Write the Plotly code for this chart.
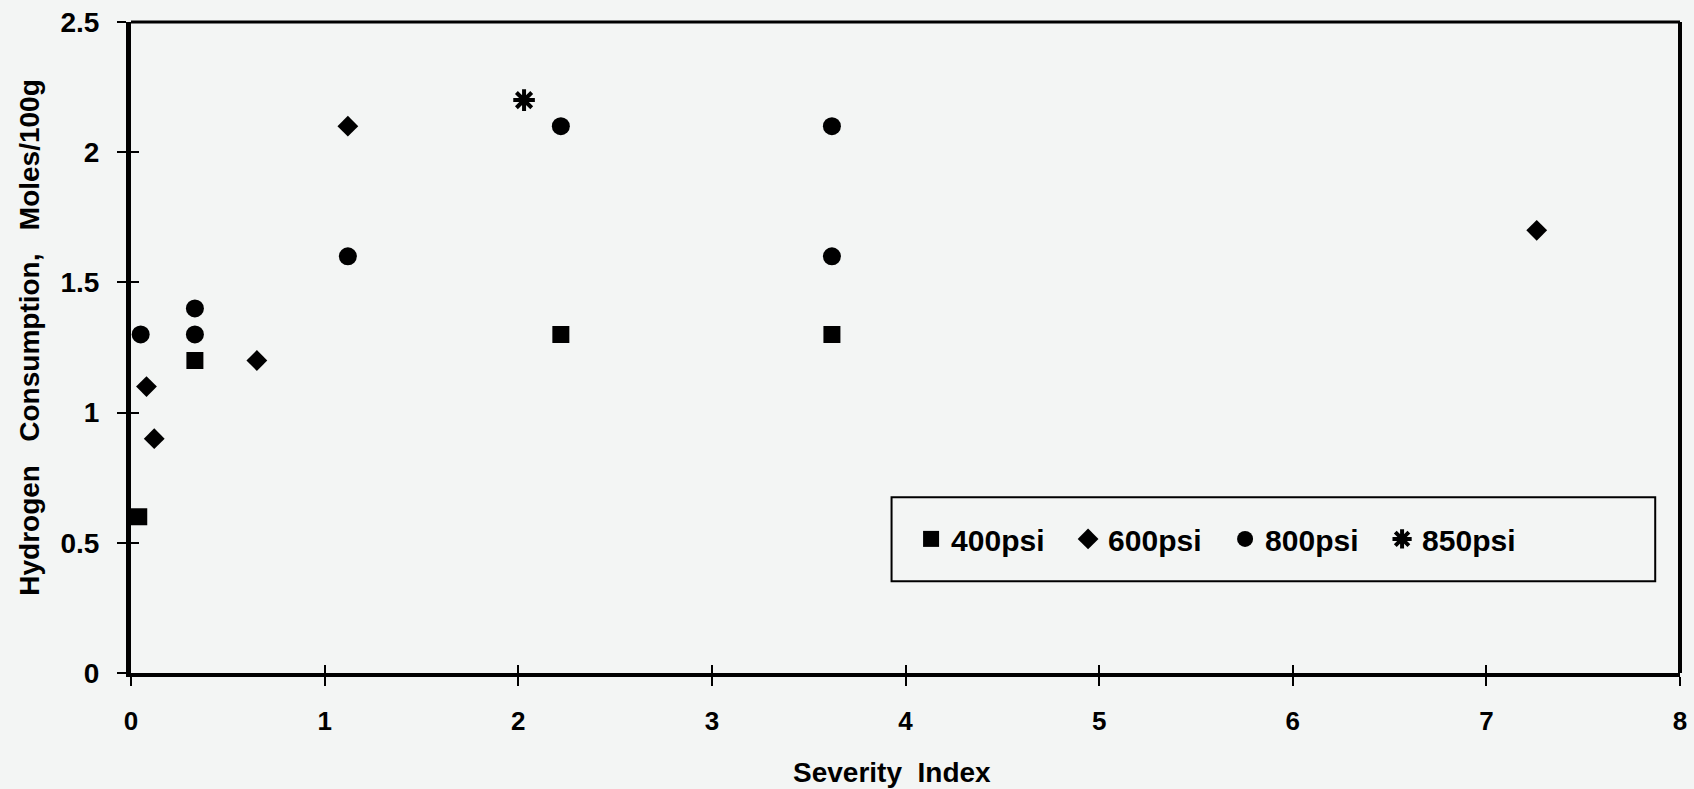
import plotly.graph_objects as go

# Data
x_400 = [0.04, 0.33, 2.22, 3.62]
y_400 = [0.6, 1.2, 1.3, 1.3]

x_600 = [0.08, 0.12, 0.65, 1.12, 7.26]
y_600 = [1.1, 0.9, 1.2, 2.1, 1.7]

x_800 = [0.05, 0.33, 0.33, 1.12, 2.22, 3.62, 3.62]
y_800 = [1.3, 1.4, 1.3, 1.6, 2.1, 2.1, 1.6]

x_850 = [2.03]
y_850 = [2.2]

x_ticks = [0, 1, 2, 3, 4, 5, 6, 7, 8]
y_ticks = [0, 0.5, 1, 1.5, 2, 2.5]
y_tick_text = ["0", "0.5", "1", "1.5", "2", "2.5"]

x_title = "Severity\u00a0\u00a0Index"
y_title = "Hydrogen\u00a0\u00a0\u00a0Consumption,\u00a0\u00a0\u00a0Moles/100g"

BG = "#f3f5f4"
FONT = "Liberation Sans"

fig = go.Figure()
fig.add_trace(go.Scatter(x=x_400, y=y_400, mode="markers", name="400psi",
                         marker=dict(symbol="square", size=17, color="black")))
fig.add_trace(go.Scatter(x=x_600, y=y_600, mode="markers", name="600psi",
                         marker=dict(symbol="diamond", size=16, color="black")))
fig.add_trace(go.Scatter(x=x_800, y=y_800, mode="markers", name="800psi",
                         marker=dict(symbol="circle", size=18, color="black")))
fig.add_trace(go.Scatter(x=x_850, y=y_850, mode="markers", name="850psi",
                         marker=dict(symbol="asterisk-open", size=18, color="black",
                                     line=dict(color="black", width=4))))
# invisible trace for the inner tick overlay axes
fig.add_trace(go.Scatter(x=[x_ticks[0]], y=[y_ticks[0]], xaxis="x2", yaxis="y2",
                         mode="markers", marker=dict(opacity=0), showlegend=False,
                         hoverinfo="skip"))

fig.update_layout(
    width=1694, height=789,
    paper_bgcolor=BG, plot_bgcolor=BG,
    margin=dict(l=131, r=14, t=22, b=116),
    font=dict(family=FONT, size=24, color="black", weight=700),
    xaxis=dict(range=[0, 8], tickvals=x_ticks, ticks="outside", ticklen=9, tickwidth=2,
               tickcolor="black", showline=True, linecolor="black", linewidth=4,
               mirror=False, showgrid=False, zeroline=False, automargin=False,
               tickfont=dict(size=26, family=FONT, weight=700),
               ticklabelstandoff=13),
    yaxis=dict(range=[0, 2.5], tickvals=y_ticks, ticktext=y_tick_text, ticks="outside",
               ticklen=9, tickwidth=2, tickcolor="black", showline=True, linecolor="black",
               linewidth=5, mirror=False, showgrid=False, zeroline=False, automargin=False,
               tickfont=dict(size=28, family=FONT, weight=700),
               ticklabelstandoff=12),
    xaxis2=dict(range=[0, 8], tickvals=x_ticks, ticks="inside", ticklen=8, tickwidth=2,
                tickcolor="black", showticklabels=False, overlaying="x", showgrid=False,
                zeroline=False, showline=False, automargin=False),
    yaxis2=dict(range=[0, 2.5], tickvals=y_ticks, ticks="inside", ticklen=8, tickwidth=2,
                tickcolor="black", showticklabels=False, overlaying="y", showgrid=False,
                zeroline=False, showline=False, automargin=False),
    legend=dict(orientation="h", x=0.5036, y=0.206, xanchor="left", yanchor="middle",
                bgcolor="rgba(0,0,0,0)", borderwidth=0,
                font=dict(size=30, family=FONT, weight=700),
                entrywidth=112, itemwidth=30, itemsizing="trace"),
    showlegend=True,
)

# axis titles
fig.add_annotation(text=x_title, xref="paper", yref="paper", x=0.491, y=-0.153,
                   xanchor="center", yanchor="middle", showarrow=False,
                   font=dict(size=28, family=FONT, weight=700, color="black"))
fig.add_annotation(text=y_title, xref="paper", yref="paper", x=-0.0652, y=0.515,
                   xanchor="center", yanchor="middle", showarrow=False, textangle=-90,
                   font=dict(size=28, family=FONT, weight=700, color="black"))

# top and right frame lines
fig.add_shape(type="line", xref="paper", yref="paper", x0=0, x1=1, y0=1, y1=1,
              line=dict(color="black", width=3))
fig.add_shape(type="line", xref="paper", yref="paper", x0=1, x1=1, y0=0, y1=1,
              line=dict(color="black", width=4))
# legend frame
fig.add_shape(type="rect", xref="paper", yref="paper",
              x0=0.491, x1=0.984, y0=0.141, y1=0.270,
              line=dict(color="black", width=2), fillcolor="rgba(0,0,0,0)", layer="above")

fig.write_html("out.html", config={"displayModeBar": False},
               post_script="document.body.style.margin='0';"
                           "document.body.style.background='" + BG + "';")
